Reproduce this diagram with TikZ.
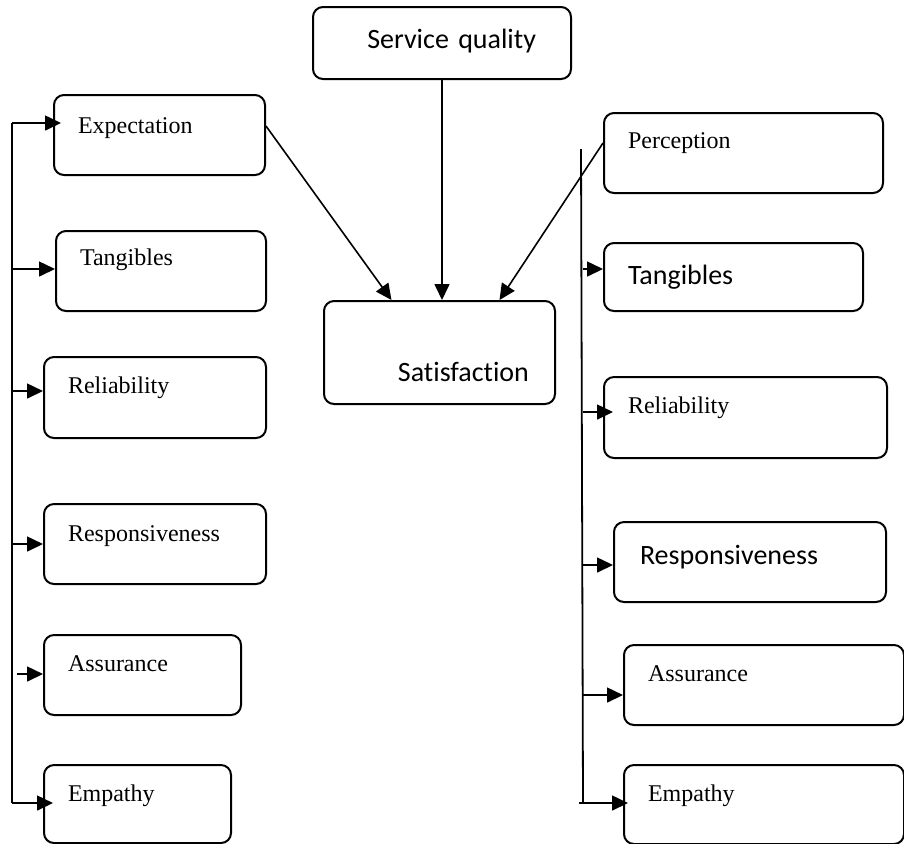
\documentclass[tikz,border=0pt]{standalone}
\usepackage{fontspec}
\setmainfont{Liberation Serif}
\setsansfont{Carlito}[Ligatures=NoCommon]
\usepackage{tikz}
\usetikzlibrary{arrows.meta}
\tikzstyle{box} = [rectangle, rounded corners=5pt, draw=black, line width=1pt, anchor=north west, align=left, inner xsep=12pt, inner ysep=0pt, font=\fontsize{12}{14}\selectfont]
\tikzstyle{sansbox} = [box, font=\sffamily\fontsize{14}{16}\selectfont]
\tikzstyle{arr} = [-{Triangle[length=8pt,width=7.5pt]}, line width=0.8pt]
\tikzstyle{spine} = [line width=0.9pt]

\begin{document}
\begin{tikzpicture}[x=0.5pt, y=-0.5pt]
      \useasboundingbox (0,0) rectangle (904,843);
      \node (servq) [sansbox, align=right, inner xsep=17.5pt, text width=94pt, text height=20.5pt, text depth=15.5pt] at (312,6) {Service quality};
      \node (satis) [sansbox, align=right, inner xsep=13pt, text width=89.5pt, text height=40pt, text depth=11.5pt] at (323,300) {Satisfaction};

      \node (expect) [box, text width=81.5pt, text height=19pt, text depth=21pt] at (53,94) {Expectation};
      \node (tangL) [box, text width=81pt, text height=17pt, text depth=23pt] at (55,230) {Tangibles};
      \node (reliL) [box, text width=87pt, text height=18pt, text depth=22.5pt] at (43,356) {Reliability};
      \node (respL) [box, text width=87pt, text height=18.5pt, text depth=21.5pt] at (43,503) {Responsiveness};
      \node (assurL) [box, text width=74.5pt, text height=18pt, text depth=22pt] at (43,634) {Assurance};
      \node (empL) [box, text width=69.5pt, text height=18pt, text depth=21pt] at (43,764) {Empathy};

      \node (percep) [box, text width=115.5pt, text height=17.5pt, text depth=22.5pt] at (603,112) {Perception};
      \node (tangR) [sansbox, text width=105.5pt, text height=20.5pt, text depth=13.5pt] at (603,242) {Tangibles};
      \node (reliR) [box, text width=117.5pt, text height=18pt, text depth=22.5pt] at (603,376) {Reliability};
      \node (respR) [sansbox, inner xsep=13pt, text width=110pt, text height=21pt, text depth=19pt] at (613,521) {Responsiveness};
      \node (assurR) [box, text width=116pt, text height=18pt, text depth=22pt] at (623,644) {Assurance};
      \node (empR) [box, text width=116pt, text height=18pt, text depth=21.5pt] at (623,764) {Empathy};

      \draw[arr] ([yshift=4.5pt]expect.east) -- ([xshift=-24pt]satis.north);
      \draw[arr] (servq.south) -- (servq.south |- satis.north);
      \draw[arr] ([yshift=5pt]percep.west) -- ([xshift=30pt]satis.north);

      \coordinate (ltop) at (12,123);
      \coordinate (lbot) at (12,803);
      \draw[spine] (ltop) -- (lbot);
      \draw[arr] (ltop) -- ([xshift=4pt]ltop -| expect.west);
      \foreach \n/\y in {tangL/269, reliL/391, respL/544}
        {\coordinate (l\n) at (12,\y); \draw[arr] (l\n) -- (l\n -| \n.west);}
      \coordinate (lassur) at (17,674);
      \draw[arr] (lassur) -- (lassur -| assurL.west);
      \draw[arr] (lbot) -- ([xshift=5pt]lbot -| empL.west);

      \coordinate (rtop) at (581,149);
      \coordinate (rbot) at (583,803);
      \draw[spine] (rtop) -- (rbot);
      \foreach \n/\y in {tangR/269, respR/565, assurR/695}
        {\coordinate (r\n) at (583,\y); \draw[arr] (r\n) -- (r\n -| \n.west);}
      \coordinate (rreli) at (583,412);
      \draw[arr] (rreli) -- ([xshift=5pt]rreli -| reliR.west);
      \coordinate (rend) at (579,803);
      \draw[arr] (rend) -- ([xshift=2.5pt]rend -| empR.west);
    \end{tikzpicture}
\end{document}
